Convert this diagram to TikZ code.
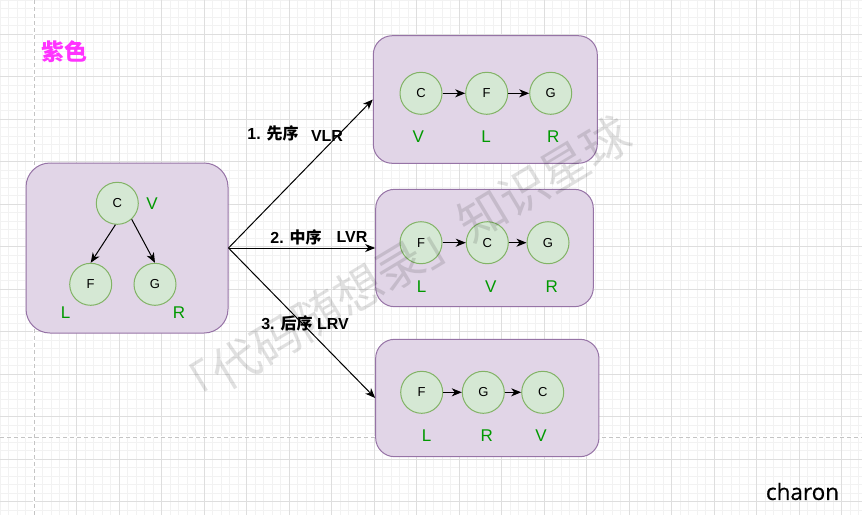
\documentclass[tikz,border=0pt]{standalone}
\usepackage{fontspec}
\setmainfont{Liberation Sans}
\newfontfamily\cjk{Noto Sans CJK SC}
\newfontfamily\charonfont{Open Sans}[FakeBold=0.5]
\usetikzlibrary{arrows.meta}
\definecolor{boxfill}{HTML}{E1D5E7}
\definecolor{boxdraw}{HTML}{9673A6}
\definecolor{cfill}{HTML}{D5E8D4}
\definecolor{cdraw}{HTML}{82B366}
\definecolor{lblgreen}{HTML}{009900}
\definecolor{magentaT}{HTML}{FF33FF}
\definecolor{gmajor}{HTML}{DEDEDE}
\definecolor{gminor}{HTML}{F2F2F2}
\definecolor{dashgray}{HTML}{C4C4C4}
\begin{document}
\begin{tikzpicture}[x=1pt,y=-1pt,
  panel/.style={draw=boxdraw, fill=boxfill, line width=1pt, inner sep=0pt},
  tnode/.style={circle, draw=cdraw, fill=cfill, line width=1pt, minimum size=42pt, inner sep=0pt, font=\fontsize{13}{15}\selectfont},
  glabel/.style={text=lblgreen, inner sep=0pt, font=\fontsize{17}{20}\selectfont},
  elabel/.style={inner sep=0pt, font=\bfseries\fontsize{16}{19}\selectfont},
  arr/.style={-{Stealth[length=10pt,width=8pt,inset=3pt]}, line width=1pt},
  minorline/.style={gminor, line width=0.8pt},
  majorline/.style={gmajor, line width=0.9pt},
  pagedash/.style={dashgray, line width=0.9pt, dash pattern=on 4pt off 3pt}]
\useasboundingbox (0,0) rectangle (862,515);
\fill[white] (0,0) rectangle (862,515);
% grid
\foreach \i in {0,...,101} {\draw[minorline] ({\i*8.5},0) -- ({\i*8.5},515);}
\foreach \j in {0,...,60} {\draw[minorline] (0,{\j*8.5}) -- (862,{\j*8.5});}
\foreach \i in {0,...,20} {\draw[majorline] ({-8.5+\i*42.5},0) -- ({-8.5+\i*42.5},515);}
\foreach \j in {0,...,12} {\draw[majorline] (0,{-8.5+\j*42.5}) -- (862,{-8.5+\j*42.5});}
\draw[white, line width=1.2pt] (34,0) -- (34,515);
\draw[white, line width=1.2pt] (0,437) -- (862,437);
\draw[pagedash] (34,0) -- (34,515);
\draw[pagedash] (0,437) -- (862,437);

% title
\node[inner sep=0pt, text=magentaT, font=\cjk\bfseries\fontsize{23}{26}\selectfont] (title) at (64,52) {紫色};

% left tree panel
\node[panel, rounded corners=24pt, minimum width=202pt, minimum height=170pt] (T) at (127,248) {};
\node[tnode] (tC) at (117.3,203.3) {C};
\node[tnode] (tF) at (90.7,284.3) {F};
\node[tnode] (tG) at (155,284.3) {G};
\node[glabel] (tV) at (152,204) {V};
\node[glabel] (tL) at (65.7,312.7) {L};
\node[glabel] (tR) at (179,312.7) {R};
\draw[arr] (tC.-95) -- (tF.north);
\draw[arr] (tC.-48) -- (tG.north);

% right panels
\node[panel, rounded corners=19pt, minimum width=224pt, minimum height=127.6pt] (B1) at (485.3,99.5) {};
\node[panel, rounded corners=19pt, minimum width=217.6pt, minimum height=117.4pt] (B2) at (484.5,248) {};
\node[panel, rounded corners=19pt, minimum width=223.3pt, minimum height=117.4pt] (B3) at (487.3,398) {};

% panel 1: C F G / V L R
\node[tnode] (aC) at (421,93.3) {C};
\node[tnode] (aF) at (486.7,93.3) {F};
\node[tnode] (aG) at (550.7,93.3) {G};
\node[glabel] (aV) at (418.3,136.7) {V};
\node[glabel] (aL) at (486,136.7) {L};
\node[glabel] (aR) at (553.3,136.7) {R};
\draw[arr] (aC) -- (aF);
\draw[arr] (aF) -- (aG);

% panel 2: F C G / L V R
\node[tnode] (bF) at (421,242.7) {F};
\node[tnode] (bC) at (487.3,242.7) {C};
\node[tnode] (bG) at (548,242.7) {G};
\node[glabel] (bL) at (421.7,286.7) {L};
\node[glabel] (bV) at (490.7,286.7) {V};
\node[glabel] (bR) at (551.7,286.7) {R};
\draw[arr] (bF) -- (bC);
\draw[arr] (bC) -- (bG);

% panel 3: F G C / L R V
\node[tnode] (cF) at (421.7,392.3) {F};
\node[tnode] (cG) at (483.3,392.3) {G};
\node[tnode] (cC) at (542.7,392.3) {C};
\node[glabel] (cL) at (426.7,436) {L};
\node[glabel] (cR) at (486.7,436) {R};
\node[glabel] (cV) at (541,436) {V};
\draw[arr] (cF) -- (cG);
\draw[arr] (cG) -- (cC);

% main connectors
\draw[arr] (T.east) -- (B1.west);
\draw[arr] (T.east) -- (B2.west);
\draw[arr] (T.east) -- (B3.west);

% connector labels
\node[elabel] (e1a) at (273,133) {1. {\cjk 先序}};
\node[elabel] (e1b) at (327,136) {VLR};
\node[elabel] (e2a) at (296,237) {2. {\cjk 中序}};
\node[elabel] (e2b) at (352,237) {LVR};
\node[elabel] (e3) at (305,323) {3. {\cjk 后序} LRV};

% watermark
\node[rotate=31, text=black, text opacity=0.12, inner sep=0pt, font=\cjk\fontsize{48}{52}\selectfont] (wm) at (400,265) {「代码随想录」知识星球};

% signature
\node[inner sep=0pt, font=\charonfont\fontsize{22.5}{26}\selectfont] (sig) at (802.5,491.5) {charon};
\end{tikzpicture}
\end{document}
